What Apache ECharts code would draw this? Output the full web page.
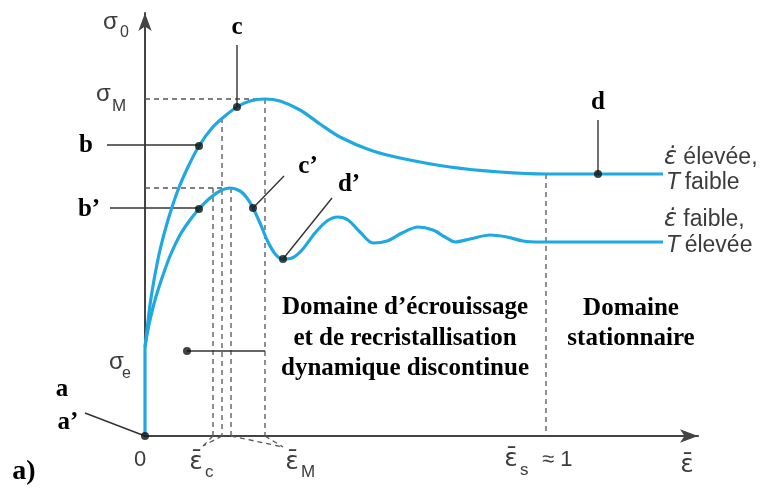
<!DOCTYPE html>
<html><head><meta charset="utf-8">
<script src="https://cdn.jsdelivr.net/npm/echarts@6/dist/echarts.min.js"></script>
<style>html,body{margin:0;padding:0;background:#fff}#c{width:767px;height:488px}</style>
</head><body><div id="c"></div>
<script>
// Schematic units: x = strain (epsilon), y = flow stress (sigma)
const initialRise = [[0,0],[0,89]];
const upperCurve = [[0,89],[2,106],[5,131],[9,156],[15,186],[23,216],[33,246],[43,269],[54,290],[67,308],[80,320],[92,329],[105,335],[120,337],[135,335],[155,326],[175,312],[195,299],[225,286],[255,278],[305,269],[355,264],[401,262],[455,262],[518,262]];
const lowerCurve = [[0,89],[2,101],[5,116],[10,136],[17,158],[25,180],[35,201],[45,216],[54,227],[65,238],[75,245],[85,248],[95,245],[102,238],[108,228],[115,213],[123,194],[131,181],[138,177],[147,178],[157,186],[170,203],[182,215],[193,219],[203,216],[215,204],[228,193],[242,195],[257,203],[273,209],[288,206],[300,199],[310,194],[325,197],[345,201],[362,199],[378,195],[395,194],[518,194]];
const markedPoints = [[0,0],[54,290],[92,329],[453,262],[54,227],[108,228],[138,177],[42,85]];
const leaderLines = [
  [[-38,291],[54,291]],   // b
  [[-35,228],[54,228]],   // b'
  [[92,391],[92,329]],    // c
  [[453,316],[453,262]],  // d
  [[108,228],[139,260]],  // c'
  [[138,177],[187,238]],  // d'
  [[-60,23],[0,0]],       // a, a'
  [[42,85],[120,85]]      // domaine
];
const guideLines = [
  [[0,337],[120,337]],
  [[120,337],[120,0]],
  [[77,318],[77,0]],
  [[0,248],[85,248]],
  [[68,248],[68,0]],
  [[86,248],[86,0]],
  [[401,262],[401,0]],
  [[77,0],[58,-10]],
  [[68,0],[58,-10]],
  [[86,0],[138,-11]],
  [[120,0],[138,-11]]
];
const xMin = -145, xMax = 553, yMax = 423;

const blue = '#1fa8e2';
const series = [];
const seg = (pts, ls, z) => ({type:'line', xAxisIndex:0, yAxisIndex:0, data:pts, symbol:'none', clip:false, silent:true, smooth:false, lineStyle:ls, z:z, animation:false});
guideLines.forEach(p => series.push(seg(p, {color:'#555', width:1.3, type:[5,4]}, 1)));
leaderLines.forEach(p => series.push(seg(p, {color:'#333', width:1.4}, 2)));
series.push(seg(initialRise, {color:blue, width:3.2}, 3));
series.push(Object.assign(seg(upperCurve, {color:blue, width:3.2}, 3), {smooth:0.3}));
series.push(Object.assign(seg(lowerCurve, {color:blue, width:3.2}, 3), {smooth:0.3}));
series.push({type:'scatter', xAxisIndex:0, yAxisIndex:0, data:markedPoints, symbolSize:8, itemStyle:{color:'#111'}, clip:false, silent:true, z:5, animation:false});

const sans = 'Liberation Sans', serif = 'Liberation Serif', dv = 'DejaVu Sans', grey = '#3c3c3c';
const T = (text, x, y, o) => Object.assign({type:'text', x:x, y:y, silent:true,
  style:Object.assign({text:text, fill:grey, font:'22px "'+sans+'"', align:'left', verticalAlign:'middle'}, o||{})});
const E = (x, y) => T('ε̄', x, y, {align:'center', font:'25px "'+dv+'"'});
const B = (text, x, y, size) => T(text, x, y, {fill:'#000', font:'bold '+(size||25)+'px "'+serif+'"', align:'center'});
const richR = {i:{font:'oblique 24px "'+dv+'"', fill:grey}, j:{font:'italic 23px "'+sans+'"', fill:grey}};
const graphics = [
  T('σ', 103, 22, {font:'24px "'+sans+'"'}), T('0', 120, 33, {font:'16px "'+sans+'"'}),
  T('σ', 96, 94, {font:'24px "'+sans+'"'}), T('M', 112, 106, {font:'17px "'+sans+'"'}),
  T('σ', 109, 362, {font:'24px "'+sans+'"'}), T('e', 122, 374, {font:'16px "'+sans+'"'}),
  T('0', 140, 460, {align:'center'}),
  E(196, 462), T('c', 205, 472, {font:'17px "'+sans+'"'}),
  E(292, 462), T('M', 301, 472, {font:'17px "'+sans+'"'}),
  E(511, 459), T('s', 520, 470, {font:'17px "'+sans+'"'}), T('≈ 1', 542, 460),
  E(687, 465),
  T('{i|ε̇} élevée,', 664, 158, {font:'23px "'+sans+'"', rich:richR}),
  T('{j|T}\u2009faible', 666, 183, {font:'23px "'+sans+'"', rich:richR}),
  T('{i|ε̇} faible,', 664, 220, {font:'23px "'+sans+'"', rich:richR}),
  T('{j|T}\u2009élevée', 666, 246, {font:'23px "'+sans+'"', rich:richR}),
  B('a', 62, 390), B('a’', 68, 423), B('b', 86, 146), B('b’', 89, 210),
  B('c', 237, 28), B('c’', 308, 167), B('d', 598, 103), B('d’', 349, 185),
  B('a)', 24, 472, 28),
  B('Domaine d’écrouissage', 405, 308), B('et de recristallisation', 405, 339), B('dynamique discontinue', 405, 369),
  B('Domaine', 631, 309), B('stationnaire', 631, 339)
];

const hidden = {axisLine:{show:false}, axisTick:{show:false}, axisLabel:{show:false}, splitLine:{show:false}};
const chart = echarts.init(document.getElementById('c'), null, {renderer:'canvas'});
chart.setOption({
  animation:false,
  backgroundColor:'#fff',
  grid:[{left:0, right:69, top:13, bottom:52}, {left:145, right:69, top:13, bottom:52}],
  xAxis:[
    Object.assign({type:'value', gridIndex:0, min:xMin, max:xMax}, hidden),
    {type:'value', gridIndex:1, min:0, max:xMax, axisLine:{lineStyle:{color:'#444', width:2.2}, symbol:['none','arrow'], symbolSize:[10,18]}, axisTick:{show:false}, axisLabel:{show:false}, splitLine:{show:false}}
  ],
  yAxis:[
    {type:'value', gridIndex:0, min:0, max:yMax, axisLine:{show:true, onZero:true, lineStyle:{color:'#444', width:2}, symbol:['none','arrow'], symbolSize:[10,18]}, axisTick:{show:false}, axisLabel:{show:false}, splitLine:{show:false}},
    Object.assign({type:'value', gridIndex:1, min:0, max:yMax}, hidden)
  ],
  series:series,
  graphic:graphics
});
</script></body></html>
